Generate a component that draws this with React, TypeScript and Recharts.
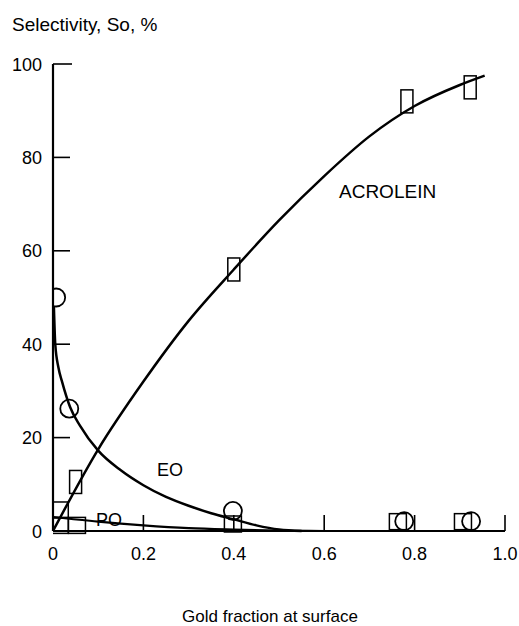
import { ComposedChart, Line, Scatter, XAxis, YAxis } from 'recharts';

const X_TICKS = [0, 0.2, 0.4, 0.6, 0.8, 1.0];
const Y_TICKS = [0, 20, 40, 60, 80, 100];

// fitted curves
const ACROLEIN_CURVE = [
  { x: 0, y: 0 }, { x: 0.1, y: 17.5 }, { x: 0.2, y: 32 }, { x: 0.3, y: 45 },
  { x: 0.4, y: 56 }, { x: 0.5, y: 66.5 }, { x: 0.6, y: 76 }, { x: 0.7, y: 84.5 },
  { x: 0.8, y: 91 }, { x: 0.9, y: 95.5 }, { x: 0.955, y: 97.5 },
];
const EO_CURVE = [
  { x: 0.002, y: 48 }, { x: 0.005, y: 40 }, { x: 0.012, y: 35 }, { x: 0.02, y: 32 },
  { x: 0.038, y: 26.5 }, { x: 0.06, y: 22.5 }, { x: 0.1, y: 17.2 }, { x: 0.15, y: 13 },
  { x: 0.2, y: 9.8 }, { x: 0.25, y: 7.3 }, { x: 0.3, y: 5.4 }, { x: 0.35, y: 3.8 },
  { x: 0.4, y: 2.5 }, { x: 0.45, y: 1.2 }, { x: 0.5, y: 0.3 }, { x: 0.55, y: 0 },
];
const PO_CURVE = [
  { x: 0, y: 3 }, { x: 0.1, y: 2 }, { x: 0.2, y: 1.2 }, { x: 0.3, y: 0.6 },
  { x: 0.4, y: 0.3 }, { x: 0.5, y: 0.1 }, { x: 0.6, y: 0 },
];

// measured points
const ACROLEIN_PTS = [
  { x: 0.05, y: 10.5 }, { x: 0.4, y: 56 }, { x: 0.783, y: 92 }, { x: 0.923, y: 95 },
];
const EO_PTS = [
  { x: 0.007, y: 50 }, { x: 0.036, y: 26.2 }, { x: 0.398, y: 4.3 },
  { x: 0.777, y: 2.1 }, { x: 0.925, y: 2.1 },
];
const PO_PTS = [
  { x: 0.015, y: 4.5 }, { x: 0.015, y: 1.2 }, { x: 0.053, y: 1.2 },
  { x: 0.398, y: 1.5 }, { x: 0.763, y: 2 }, { x: 0.907, y: 2 },
];

const FONT = 'Arial, "Liberation Sans", sans-serif';
const AXIS_X = 53;
const AXIS_Y = 531;

const YTick = (props: any) => {
  const { y, payload } = props;
  const len = payload.value === 100 ? 19 : 17;
  return (
    <g>
      <line x1={AXIS_X} y1={y} x2={AXIS_X + len} y2={y} stroke="#000" strokeWidth={1.6} />
      <text x={42} y={y + 6.5} textAnchor="end" fontSize={18} fontFamily={FONT} fill="#000">
        {payload.value}
      </text>
    </g>
  );
};

const XTick = (props: any) => {
  const { x, payload } = props;
  const v = payload.value as number;
  return (
    <g>
      {v > 0 && <line x1={x} y1={AXIS_Y} x2={x} y2={AXIS_Y - 16} stroke="#000" strokeWidth={1.6} />}
      <text x={x} y={560} textAnchor="middle" fontSize={18} fontFamily={FONT} fill="#000">
        {v === 0 ? '0' : v.toFixed(1)}
      </text>
    </g>
  );
};

const Circle = (p: any) => (
  <circle cx={p.cx} cy={p.cy} r={9} fill="none" stroke="#000" strokeWidth={1.8} />
);
const TallBox = (p: any) => (
  <rect x={p.cx - 6} y={p.cy - 11.5} width={12} height={23} fill="none" stroke="#000" strokeWidth={1.5} />
);
const SquareBox = (p: any) => (
  <rect x={p.cx - 8.5} y={p.cy - 8} width={17} height={16} fill="none" stroke="#000" strokeWidth={1.5} />
);

export default function App() {
  return (
    <div style={{ position: 'absolute', left: 0, top: 0, background: '#fff' }}>
      <ComposedChart
        width={519}
        height={626}
        margin={{ top: 64, right: 14, bottom: 65, left: 8 }}
        style={{ fontFamily: FONT }}
      >
        <XAxis
          type="number"
          dataKey="x"
          domain={[0, 1]}
          ticks={X_TICKS}
          allowDataOverflow
          height={30}
          tickSize={0}
          tickLine={false}
          axisLine={{ stroke: '#000', strokeWidth: 2.2 }}
          tick={<XTick />}
        />
        <YAxis
          type="number"
          dataKey="y"
          domain={[0, 100]}
          ticks={Y_TICKS}
          width={45}
          tickSize={0}
          tickLine={false}
          axisLine={{ stroke: '#000', strokeWidth: 2.2 }}
          tick={<YTick />}
        />
        <Line data={ACROLEIN_CURVE} dataKey="y" type="monotone" stroke="#000" strokeWidth={2.5} dot={false} isAnimationActive={false} />
        <Line data={EO_CURVE} dataKey="y" type="monotone" stroke="#000" strokeWidth={2.5} dot={false} isAnimationActive={false} />
        <Line data={PO_CURVE} dataKey="y" type="monotone" stroke="#000" strokeWidth={2.2} dot={false} isAnimationActive={false} />
        <Scatter data={ACROLEIN_PTS} dataKey="y" shape={TallBox} isAnimationActive={false} />
        <Scatter data={PO_PTS} dataKey="y" shape={SquareBox} isAnimationActive={false} />
        <Scatter data={EO_PTS} dataKey="y" shape={Circle} isAnimationActive={false} />
        <text x={12} y={31} fontSize={19} fontFamily={FONT} fill="#000">Selectivity, So, %</text>
        <text x={339} y={198} fontSize={19} fontFamily={FONT} fill="#000">ACROLEIN</text>
        <text x={157} y={476} fontSize={18} fontFamily={FONT} fill="#000">EO</text>
        <text x={96} y={526} fontSize={18} fontFamily={FONT} fill="#000">PO</text>
        <text x={270} y={622} textAnchor="middle" fontSize={17} fontFamily={FONT} fill="#000">
          Gold fraction at surface
        </text>
      </ComposedChart>
    </div>
  );
}
